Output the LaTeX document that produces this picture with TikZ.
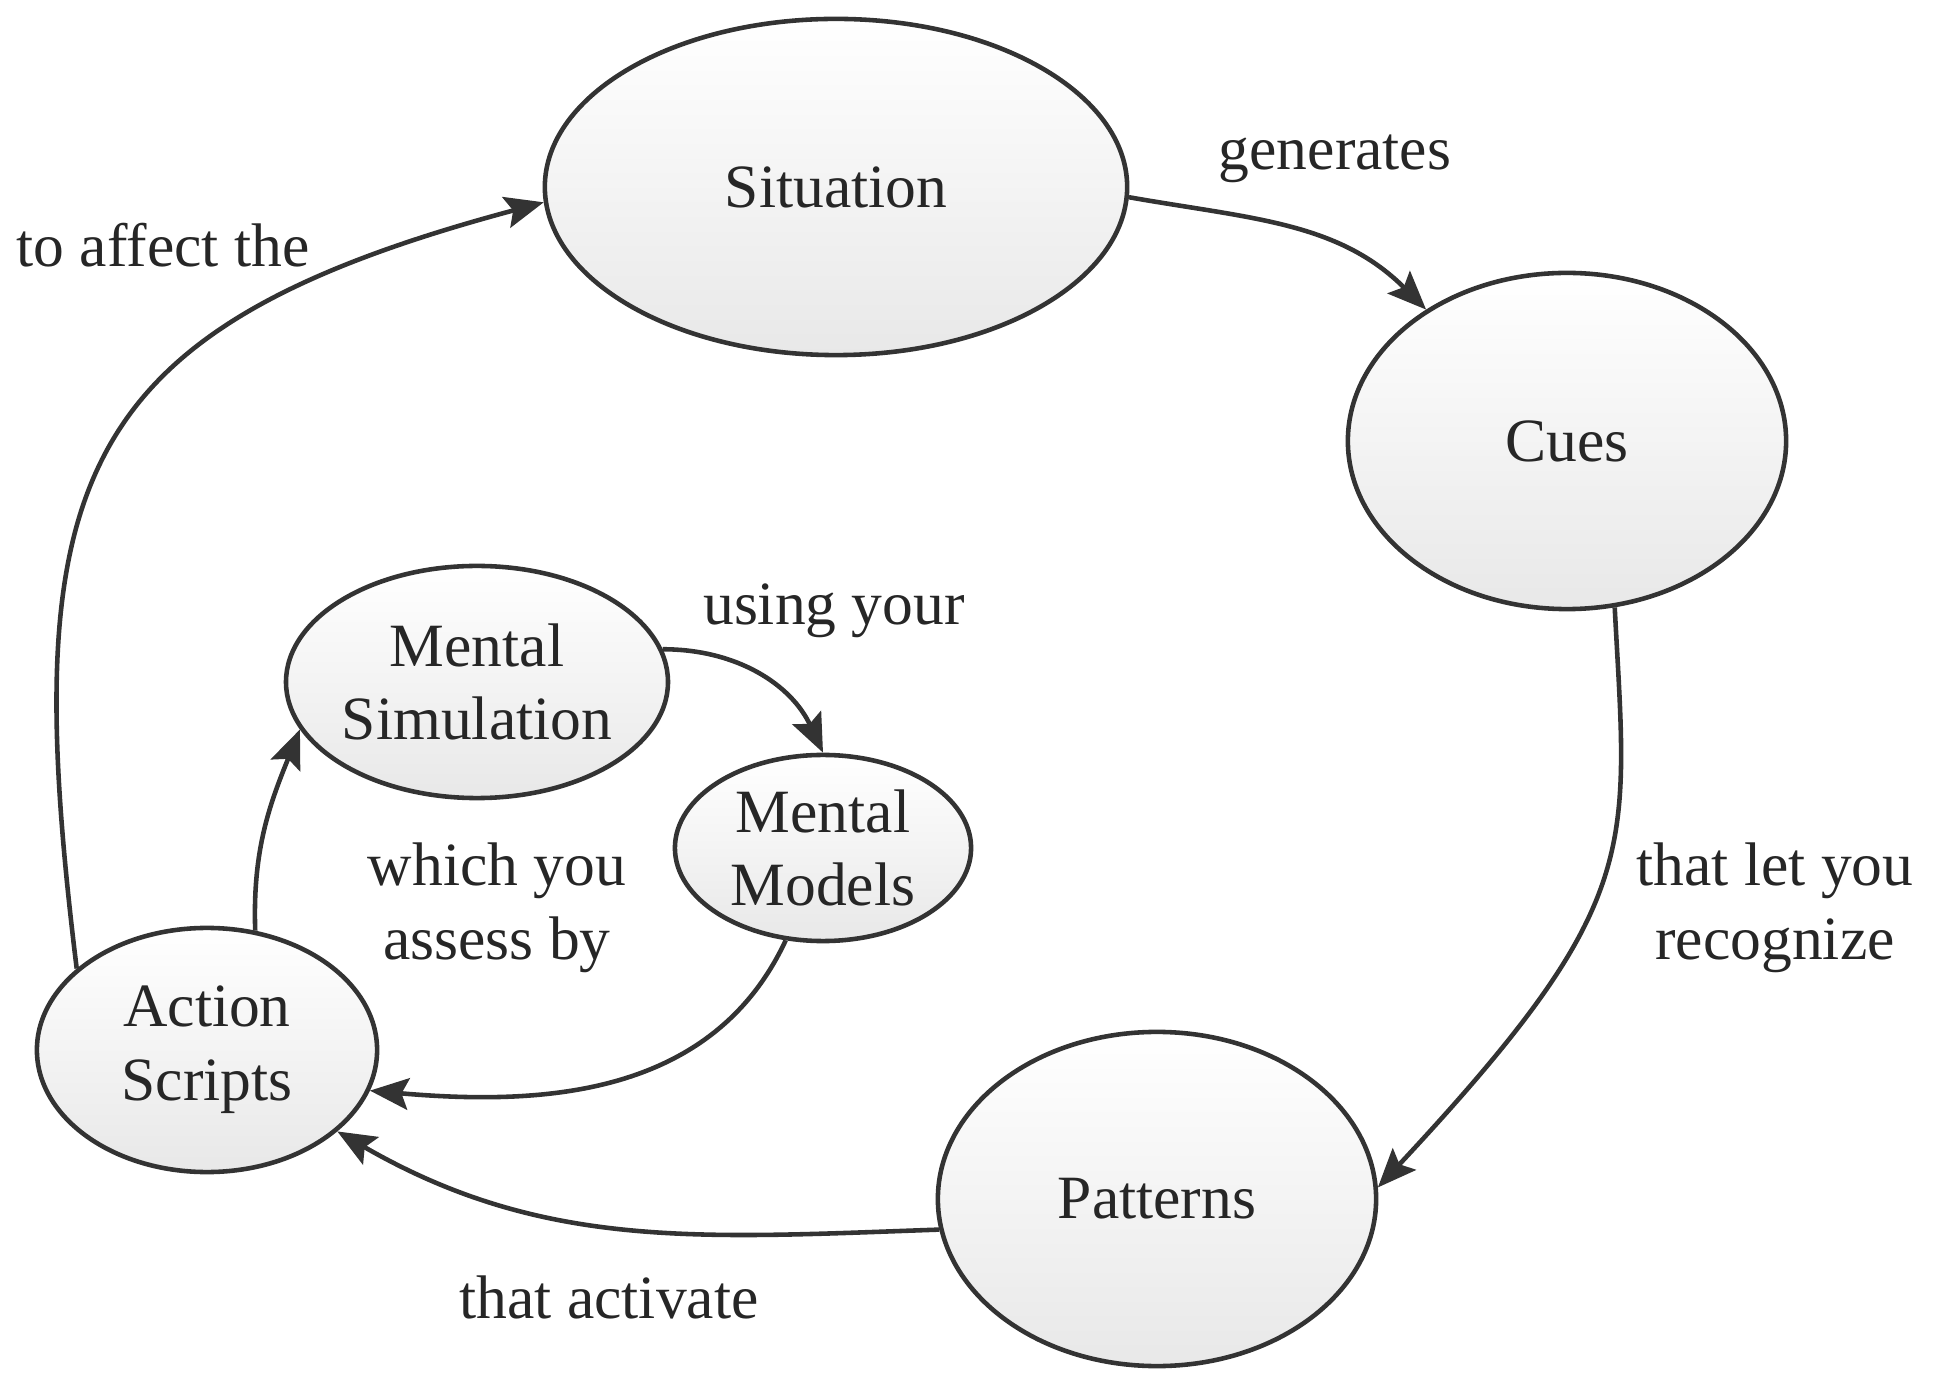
\documentclass[tikz,border=0pt]{standalone}
\usepackage{fontspec}
\setmainfont{Liberation Serif}
\usetikzlibrary{arrows.meta}
\usetikzlibrary{shapes.geometric}

\begin{document}
\begin{tikzpicture}[x=0.01cm,y=0.01cm,
  >={Stealth[length=11pt,width=9pt,inset=2pt]},
  bubble/.style={ellipse,draw=black!80,line width=1.3pt,top color=white,bottom color=black!9,inner sep=0pt,align=center,text=black!85,font=\fontsize{17.5}{21}\selectfont},
  lbl/.style={align=center,text=black!85,font=\fontsize{17.5}{21}\selectfont},
  link/.style={->,draw=black!80,line width=1.3pt}]
\useasboundingbox (0,0) rectangle (1942,1372);
\node[bubble,minimum width=5.82cm,minimum height=3.36cm] (situation) at (836,1185) {Situation};
\node[bubble,minimum width=4.38cm,minimum height=3.36cm] (cues) at (1567,931) {Cues};
\node[bubble,minimum width=4.38cm,minimum height=3.34cm] (patterns) at (1157,173) {Patterns};
\node[bubble,minimum width=3.40cm,minimum height=2.44cm] (action) at (207,322) {Action\\Scripts};
\node[bubble,minimum width=3.66cm,minimum height=2.32cm] (simulation) at (477,690) {Mental\\Simulation};
\node[bubble,minimum width=2.96cm,minimum height=1.86cm] (models) at (823,524) {Mental\\Models};
\draw[link] (situation.-2) to[out=-10,in=135] (cues.137);
\draw[link] (cues.-74) to[out=-87,in=47,out looseness=1,in looseness=1.6] (patterns.3);
\draw[link] (patterns.188) to[out=182,in=-30] (action.-32);
\draw[link] (action.148) to[out=97,in=195,looseness=1.4] (situation.183);
\draw[link] (action.68) to[out=92,in=-112] (simulation.195);
\draw[link] (simulation.10) to[out=0,in=115] (models.90);
\draw[link] (models.-112) to[out=-115,in=-5] (action.-14);
\node[lbl] (gen) at (1335,1213) {generates};
\node[lbl] (affect) at (163,1127) {to affect the};
\node[lbl] (using) at (834,761) {using your};
\node[lbl] (assess) at (497,464) {which you\\assess by};
\node[lbl] (recog) at (1775,464) {that let you\\recognize};
\node[lbl] (activate) at (609,75) {that activate};
\end{tikzpicture}
\end{document}
